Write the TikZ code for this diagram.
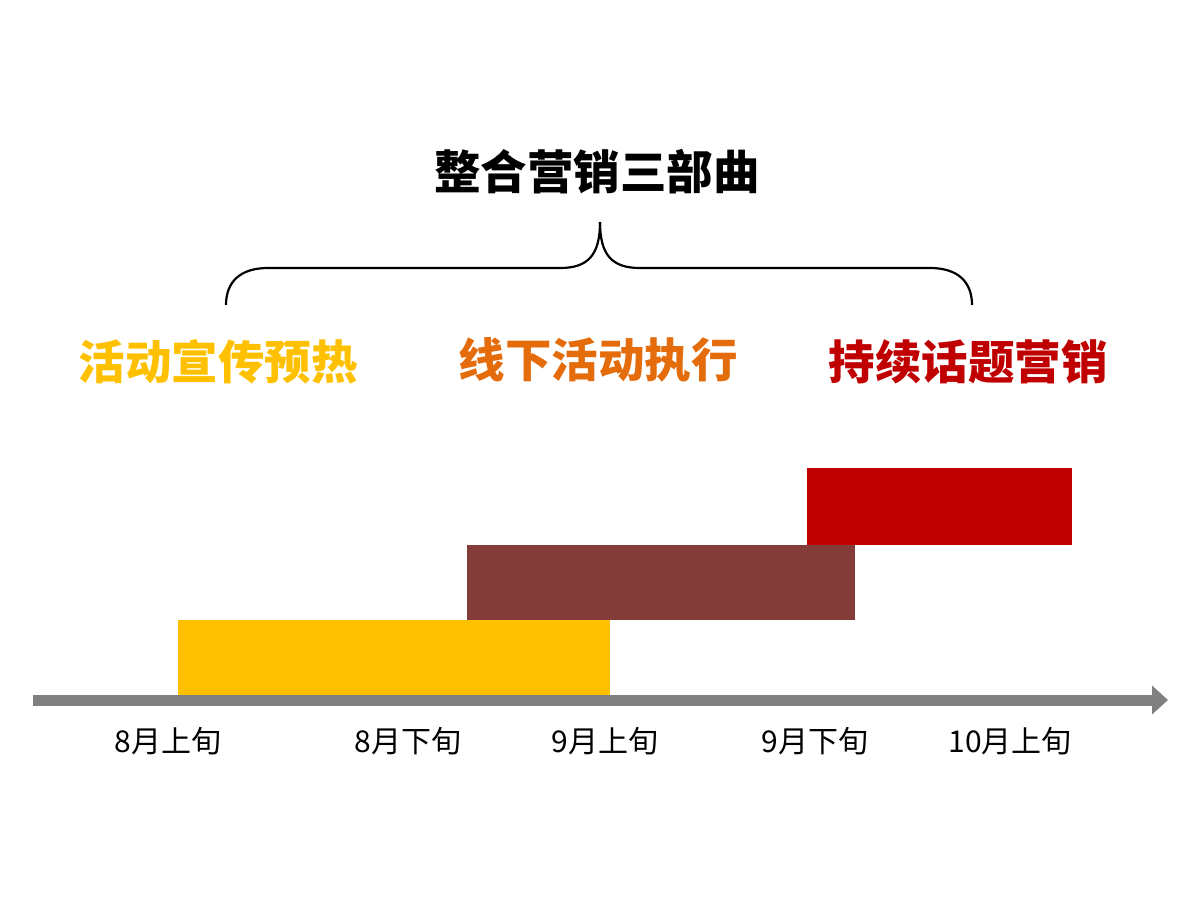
\documentclass[tikz,border=0pt]{standalone}
\usepackage{fontspec}
\usepackage{xcolor}
\usetikzlibrary{arrows.meta}
\newfontfamily\cjk{Noto Sans CJK SC}

\definecolor{warmYellow}{HTML}{FFC000}
\definecolor{warmOrange}{HTML}{E46C0A}
\definecolor{deepRed}{HTML}{C00000}
\definecolor{brickBrown}{HTML}{843C39}
\definecolor{axisGray}{HTML}{808080}

\tikzset{
  headline/.style={font=\cjk\bfseries\fontsize{46.5}{52}\selectfont},
  phase/.style={font=\cjk\bfseries\fontsize{46.5}{52}\selectfont},
  period/.style={font=\cjk\fontsize{30}{34}\selectfont},
  bar/.style={inner sep=0pt, outer sep=0pt, minimum height=75pt}
}

\begin{document}
\begin{tikzpicture}[x=1pt,y=-1pt]
        % Page frame
        \useasboundingbox (0,0) rectangle (1200,900);

        % Title and brace
        \node[headline] (title) at (597,172) {整合营销三部曲};
        \draw[line width=2.2pt] (226,305) .. controls (226,282) and (240,268) .. (268,268)
            -- (560,268) .. controls (588,268) and (600,255) .. (600,222);
        \draw[line width=2.2pt] (972,305) .. controls (972,282) and (958,268) .. (930,268)
            -- (640,268) .. controls (612,268) and (600,255) .. (600,222);

        % Phase labels
        \node[phase, text=warmYellow] (warmup) at (218,362) {活动宣传预热};
        \node[phase, text=warmOrange] (onsite) at (598,360) {线下活动执行};
        \node[phase, text=deepRed] (followup) at (968,362) {持续话题营销};

        % Time axis
        \coordinate (axisStart) at (33,700);
        \coordinate (axisEnd) at (1168,700);
        \draw[axisGray, line width=11pt, -{Triangle[width=28pt,length=16pt]}] (axisStart) -- (axisEnd);

        % Bars
        \node[bar, fill=warmYellow, minimum width=432pt, anchor=south west] (barWarmup) at (178,695) {};
        \node[bar, fill=brickBrown, minimum width=388pt, anchor=south west] (barOnsite) at (467,620) {};
        \node[bar, fill=deepRed, minimum width=265pt, minimum height=77pt, anchor=south west] (barFollowup) at (807,545) {};

        % Period labels
        \node[period] (p1) at (168,741) {8月上旬};
        \node[period] (p2) at (408,741) {8月下旬};
        \node[period] (p3) at (605,741) {9月上旬};
        \node[period] (p4) at (815,741) {9月下旬};
        \node[period] (p5) at (1010,741) {10月上旬};
\end{tikzpicture}
\end{document}
